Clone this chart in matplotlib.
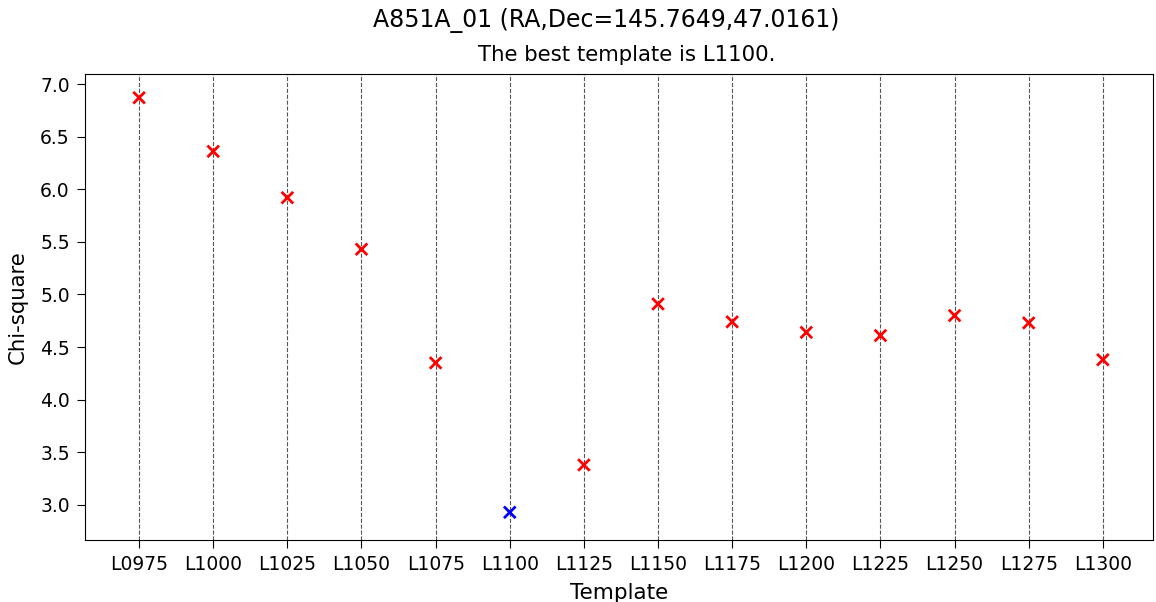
import matplotlib
matplotlib.use("Agg")
import matplotlib.pyplot as plt
import numpy as np

templates = ['L0975', 'L1000', 'L1025', 'L1050', 'L1075', 'L1100', 'L1125',
             'L1150', 'L1175', 'L1200', 'L1225', 'L1250', 'L1275', 'L1300']
chi2 = [6.87, 6.36, 5.92, 5.43, 4.35, 2.93, 3.38,
        4.91, 4.74, 4.64, 4.61, 4.80, 4.73, 4.38]
best = 'L1100'
name = 'A851A_01'
ra, dec = 145.7649, 47.0161

fig = plt.figure(figsize=(11.56, 6.02), dpi=100)
ax = fig.add_axes([0.0735, 0.103, 0.9235, 0.774])

x = np.arange(len(templates))
for xi in x:
    ax.axvline(xi, color='#555555', linestyle='--', linewidth=0.8, zorder=1)

colors = ['blue' if t == best else 'red' for t in templates]
ax.scatter(x, chi2, marker='x', c=colors, s=70, linewidths=2, zorder=3)

ax.set_xticks(x)
ax.set_xticklabels(templates)
ax.set_xlim(-0.73, 13.67)
ax.set_ylim(2.667, 7.095)
ax.tick_params(labelsize=13.5, length=6, pad=5)
ax.set_xlabel('Template', fontsize=15.5, labelpad=6)
ax.set_ylabel('Chi-square', fontsize=15.3, labelpad=9)
fig.text(0.524, 0.966, '%s (RA,Dec=%.4f,%.4f)' % (name, ra, dec),
         ha='center', va='center', fontsize=17)
fig.text(0.542, 0.908, 'The best template is %s.' % best,
         ha='center', va='center', fontsize=15.3)

fig.savefig('out.png', dpi=100)
